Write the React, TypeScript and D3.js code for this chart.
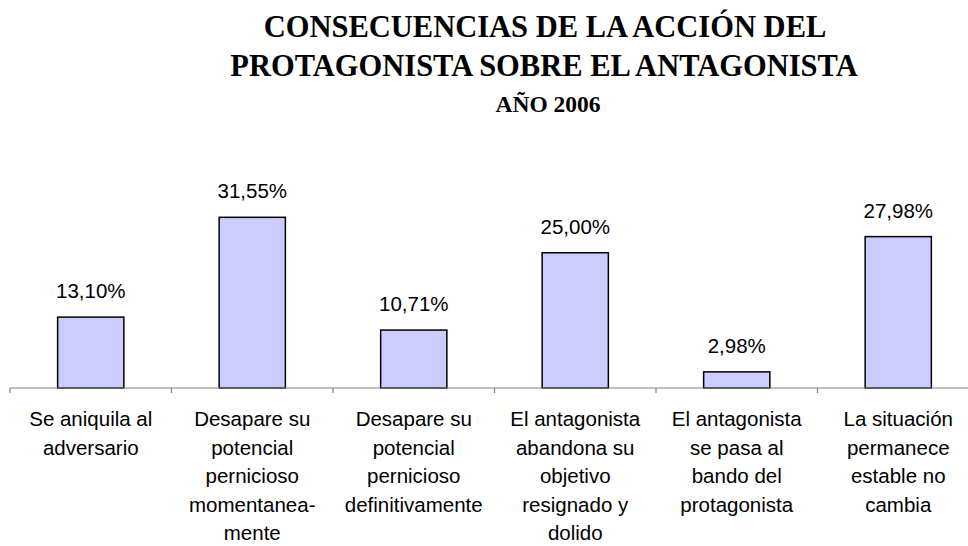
import React from "react";
import * as d3 from "d3";

const titleLines = ["CONSECUENCIAS DE LA ACCIÓN DEL", "PROTAGONISTA SOBRE EL ANTAGONISTA"];
const subtitle = "AÑO 2006";

const categories = [
  ["Se aniquila al", "adversario"],
  ["Desapare su", "potencial", "pernicioso", "momentanea-", "mente"],
  ["Desapare su", "potencial", "pernicioso", "definitivamente"],
  ["El antagonista", "abandona su", "objetivo", "resignado y", "dolido"],
  ["El antagonista", "se pasa al", "bando del", "protagonista"],
  ["La situación", "permanece", "estable no", "cambia"],
];

const values = [13.1, 31.55, 10.71, 25.0, 2.98, 27.98];

const W = 968;
const H = 546;

const locale = d3.formatLocale({ decimal: ",", thousands: ".", grouping: [3], currency: ["", "€"] });
const fmt = (v: number) => locale.format(".2f")(v) + "%";

export default function App() {
  const idx = categories.map((_, i) => String(i));
  const x = d3.scaleBand<string>().domain(idx).range([10, 979]).padding(0);
  const baseY = 388;
  const y = d3.scaleLinear().domain([0, 35]).range([baseY, baseY - 35 * 5.41]);
  const bw = x.bandwidth() * 0.41;
  const sans = "'Liberation Sans', Arial, sans-serif";
  const serif = "'Liberation Serif', 'Times New Roman', serif";
  const ticks = [...idx.map((d) => x(d)!), 979];

  return (
    <svg
      width={W}
      height={H}
      style={{ position: "absolute", left: 0, top: 0, background: "#fff" }}
      viewBox={`0 0 ${W} ${H}`}
    >
      <rect x={0} y={0} width={W} height={H} fill="#fff" />
      <g fontFamily={serif} fontWeight="bold" textAnchor="middle" fill="#000">
        <text x={545} y={37} fontSize={30.5}>{titleLines[0]}</text>
        <text x={544} y={76} fontSize={30.5}>{titleLines[1]}</text>
        <text x={548} y={112} fontSize={23.5}>{subtitle}</text>
      </g>
      {values.map((v, i) => {
        const cx = x(String(i))! + x.bandwidth() / 2;
        return (
          <g key={i}>
            <rect
              x={cx - bw / 2}
              y={y(v)}
              width={bw}
              height={baseY - y(v)}
              fill="#CCCCFF"
              stroke="#000"
              strokeWidth={1.5}
            />
            <text
              x={cx}
              y={y(v) - 19}
              textAnchor="middle"
              fontFamily={sans}
              fontSize={20.5}
              fill="#000"
            >
              {fmt(v)}
            </text>
          </g>
        );
      })}
      <line x1={10} x2={W} y1={baseY} y2={baseY} stroke="#808080" strokeWidth={1.2} />
      {ticks.map((t, i) => (
        <line key={i} x1={t} x2={t} y1={baseY} y2={baseY + 5} stroke="#808080" strokeWidth={1.2} />
      ))}
      {categories.map((lines, i) => {
        const cx = x(String(i))! + x.bandwidth() / 2;
        return (
          <text key={i} textAnchor="middle" fontFamily={sans} fontSize={20.5} fill="#000">
            {lines.map((l, j) => (
              <tspan key={j} x={cx} y={426 + j * 28.6}>
                {l}
              </tspan>
            ))}
          </text>
        );
      })}
    </svg>
  );
}
